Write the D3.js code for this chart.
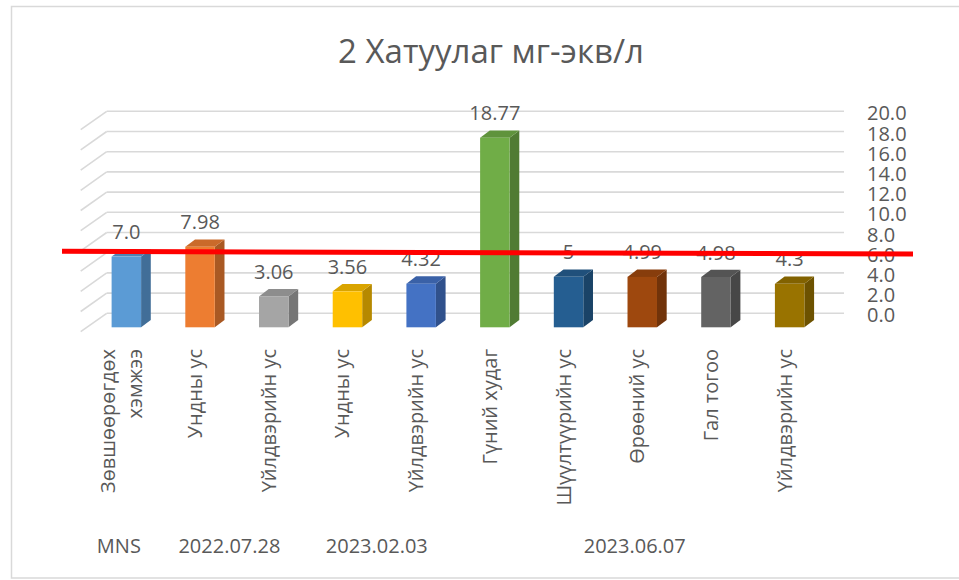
<!DOCTYPE html>
<html>
<head>
<meta charset="utf-8">
<script src="https://cdn.jsdelivr.net/npm/d3@7"></script>
<style>
  html, body { margin: 0; padding: 0; background: #fff; }
  svg { display: block; }
  text { font-family: "Open Sans", "Noto Sans", sans-serif; fill: #595959; }
</style>
</head>
<body>
<svg id="chart" width="959" height="580"></svg>
<script>
// Hardness of water samples, mg-eq/l
const title = "2 Хатуулаг мг-экв/л";
const categories = [
  ["Зөвшөөрөгдөх", "хэмжээ"],
  ["Ундны ус"],
  ["Үйлдвэрийн ус"],
  ["Ундны ус"],
  ["Үйлдвэрийн ус"],
  ["Гүний худаг"],
  ["Шүүлтүүрийн ус"],
  ["Өрөөний ус"],
  ["Гал тогоо"],
  ["Үйлдвэрийн ус"]
];
const values = [7.0, 7.98, 3.06, 3.56, 4.32, 18.77, 5, 4.99, 4.98, 4.3];
const valueLabels = ["7.0", "7.98", "3.06", "3.56", "4.32", "18.77", "5", "4.99", "4.98", "4.3"];
const colors = ["#5B9BD5", "#ED7D31", "#A5A5A5", "#FFC000", "#4472C4",
                "#70AD47", "#255E91", "#9E480E", "#636363", "#997300"];
const groups = [
  { label: "MNS", from: 0, to: 0 },
  { label: "2022.07.28", from: 1, to: 2 },
  { label: "2023.02.03", from: 3, to: 4 },
  { label: "2023.06.07", from: 5, to: 9 }
];
const yTicks = [0, 2, 4, 6, 8, 10, 12, 14, 16, 18, 20];
const threshold = 6.0;

const svg = d3.select("#chart");

// chart area frame
svg.append("rect")
  .attr("x", 11.5).attr("y", 6.5).attr("width", 960).attr("height", 571.5)
  .attr("fill", "none").attr("stroke", "#d9d9d9").attr("stroke-width", 1.5);

// title
svg.append("text")
  .attr("x", 491).attr("y", 63)
  .attr("text-anchor", "middle")
  .attr("font-size", 33)
  .text(title);

// oblique projection: back wall and front of bars
const wall = { left: 106.7, right: 844 };
const floorDepth = { dx: -26, dy: 18.4 };
const barDepth = { dx: 9.7, dy: -7.3 };

const yBack = d3.scaleLinear().domain([0, 20]).range([313.3, 111.3]);
const yFront = d3.scaleLinear().domain([0, 20]).range([327.3, 125.3]);
const x = d3.scaleBand()
  .domain(d3.range(categories.length))
  .range([89.5, 826.5])
  .paddingInner(0.6)
  .paddingOuter(0.3);

// back wall gridlines and left-wall diagonals
const grid = svg.append("g").attr("stroke", "#d9d9d9").attr("stroke-width", 1.6).attr("fill", "none");
yTicks.forEach(t => {
  const y = yBack(t);
  grid.append("line")
    .attr("x1", wall.left).attr("y1", y).attr("x2", wall.right).attr("y2", y);
  grid.append("line")
    .attr("x1", wall.left).attr("y1", y)
    .attr("x2", wall.left + floorDepth.dx).attr("y2", y + floorDepth.dy);
});

// right value axis labels
svg.append("g").selectAll("text")
  .data(yTicks)
  .join("text")
  .attr("x", 867)
  .attr("y", d => yBack(d) + 1.5)
  .attr("dominant-baseline", "central")
  .attr("font-size", 20)
  .text(d => d.toFixed(1));

// 3D bars
const bars = svg.append("g");
values.forEach((v, i) => {
  const x0 = x(i), x1 = x(i) + x.bandwidth();
  const yt = yFront(v), yb = yFront(0);
  const c = d3.color(colors[i]);
  const g = bars.append("g");
  // side face
  g.append("path")
    .attr("d", `M${x1},${yt}L${x1 + barDepth.dx},${yt + barDepth.dy}L${x1 + barDepth.dx},${yb + barDepth.dy}L${x1},${yb}Z`)
    .attr("fill", c.darker(0.95));
  // top face
  g.append("path")
    .attr("d", `M${x0},${yt}L${x0 + barDepth.dx},${yt + barDepth.dy}L${x1 + barDepth.dx},${yt + barDepth.dy}L${x1},${yt}Z`)
    .attr("fill", c.darker(0.45));
  // front face
  g.append("rect")
    .attr("x", x0).attr("y", yt)
    .attr("width", x.bandwidth()).attr("height", yb - yt)
    .attr("fill", c);
});

// value labels
svg.append("g").selectAll("text")
  .data(values)
  .join("text")
  .attr("x", (d, i) => x(i) + x.bandwidth() / 2)
  .attr("y", d => yFront(d) - 25)
  .attr("text-anchor", "middle")
  .attr("dominant-baseline", "central")
  .attr("font-size", 20)
  .text((d, i) => valueLabels[i]);

// rotated category labels
const catG = svg.append("g");
categories.forEach((lines, i) => {
  const cx = x(i) + x.bandwidth() / 2 - 5.5;
  const lineGap = 27;
  lines.forEach((ln, j) => {
    const lx = cx + (j - (lines.length - 1) / 2) * lineGap;
    catG.append("text")
      .attr("transform", `translate(${lx},349) rotate(-90)`)
      .attr("text-anchor", "end")
      .attr("dominant-baseline", "central")
      .attr("font-size", 20)
      .text(ln);
  });
});

// group labels under the categories
svg.append("g").selectAll("text")
  .data(groups)
  .join("text")
  .attr("x", g => (x(g.from) + x(g.to) + x.bandwidth()) / 2 - 7.5)
  .attr("y", 545)
  .attr("text-anchor", "middle")
  .attr("dominant-baseline", "central")
  .attr("font-size", 20)
  .text(g => g.label);

// threshold marker line
svg.append("line")
  .attr("x1", 62).attr("y1", yBack(threshold) - 1.4)
  .attr("x2", 913).attr("y2", yBack(threshold) + 1.3)
  .attr("stroke", "#ff0000").attr("stroke-width", 5);
</script>
</body>
</html>
